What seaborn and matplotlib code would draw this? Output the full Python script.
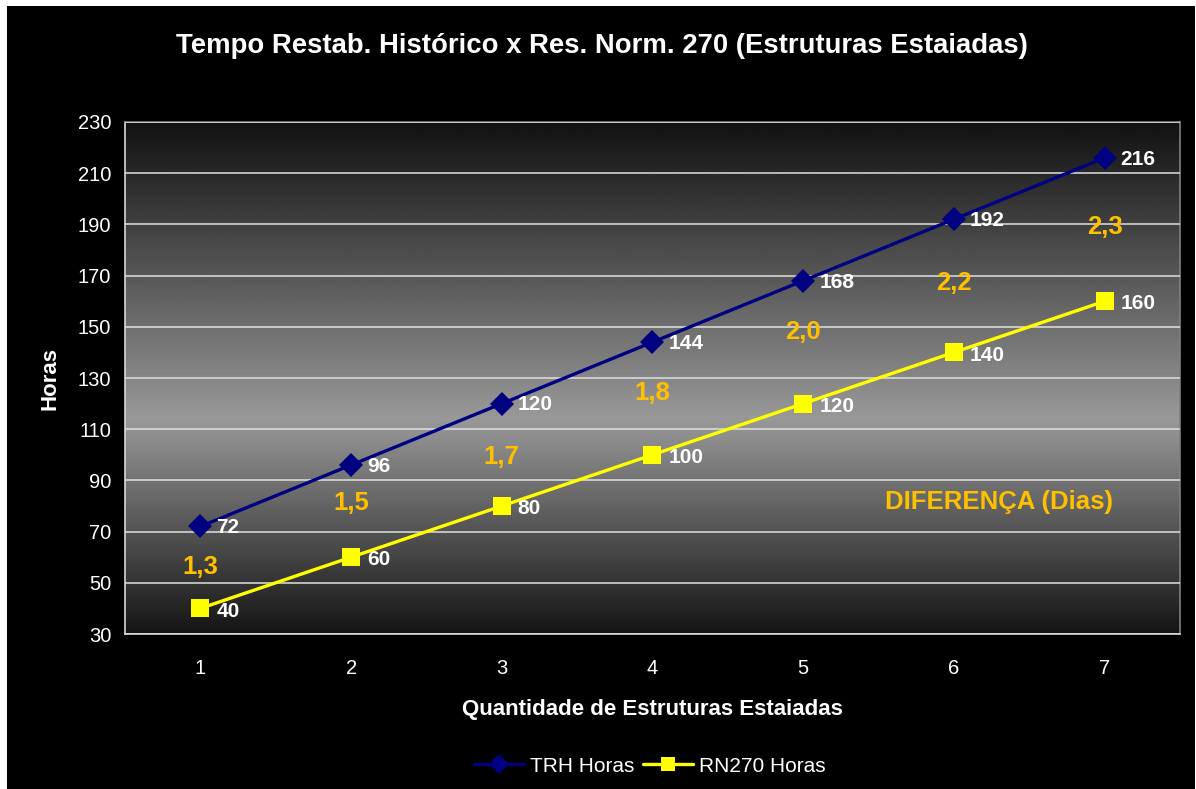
import numpy as np
import pandas as pd
import matplotlib
matplotlib.use("Agg")
import matplotlib.pyplot as plt
import seaborn as sns
from matplotlib.patches import Rectangle

# dados
qtd = [1, 2, 3, 4, 5, 6, 7]
trh_horas = [72, 96, 120, 144, 168, 192, 216]
rn270_horas = [40, 60, 80, 100, 120, 140, 160]
diferenca = ["1,3", "1,5", "1,7", "1,8", "2,0", "2,2", "2,3"]
diferenca_y = [56, 81, 99, 124, 148, 167, 189]
y_ticks = list(range(30, 231, 20))

sns.set_theme(style="dark")
plt.rcParams['font.family'] = ['Liberation Sans', 'DejaVu Sans']

df = pd.DataFrame({
    'qtd': qtd * 2,
    'horas': trh_horas + rn270_horas,
    'serie': ['TRH Horas'] * 7 + ['RN270 Horas'] * 7,
})

fig = plt.figure(figsize=(11.96, 7.89), dpi=100)
fig.patch.set_facecolor('white')
fig.patches.append(Rectangle((7 / 1196, 0), 1 - 8 / 1196, 1 - 6 / 789,
                             transform=fig.transFigure, facecolor='black',
                             edgecolor='none', zorder=-10))
ax = fig.add_axes([125 / 1196, (789 - 634) / 789, (1180 - 125) / 1196, (634 - 122) / 789])
ax.set_facecolor('black')

# fundo em gradiente (escuro - cinza - escuro)
prof = np.interp(np.linspace(0, 1, 300), [0, 0.58, 1], [0.07, 0.60, 0.08])
ax.imshow(prof[:, None], cmap='gray', vmin=0, vmax=1, aspect='auto',
          extent=[0.5, 7.5, 30, 230], origin='upper', zorder=0)

sns.lineplot(data=df, x='qtd', y='horas', hue='serie', style='serie',
             palette={'TRH Horas': '#000080', 'RN270 Horas': '#FFFF00'},
             markers={'TRH Horas': 'D', 'RN270 Horas': 's'}, dashes=False,
             linewidth=2.4, markersize=12, markeredgewidth=0, ax=ax, zorder=3)
# quadrados um pouco maiores que os losangos
for ln in ax.lines:
    if ln.get_marker() == 's':
        ln.set_markersize(13)

for x, y in zip(qtd, trh_horas):
    ax.annotate(str(y), (x, y), xytext=(11.5, -1), textcoords='offset points',
                color='white', fontsize=15, fontweight='bold', va='center', zorder=4)
for x, y in zip(qtd, rn270_horas):
    ax.annotate(str(y), (x, y), xytext=(11.5, -2), textcoords='offset points',
                color='white', fontsize=15, fontweight='bold', va='center', zorder=4)
for x, y, t in zip(qtd, diferenca_y, diferenca):
    ax.text(x, y, t, color='#FFC000', fontsize=18.5, fontweight='bold',
            ha='center', va='center', zorder=4)
ax.text(6.3, 81.5, 'DIFERENÇA (Dias)', color='#FFC000', fontsize=18.5,
        fontweight='bold', ha='center', va='center', zorder=4)

ax.set_xlim(0.5, 7.5)
ax.set_ylim(30, 230)
ax.set_yticks(y_ticks)
ax.set_xticks(np.arange(0.5, 7.6, 1))
ax.set_xticklabels([])
ax.set_xticks(qtd, minor=True)
ax.set_xticklabels([str(q) for q in qtd], minor=True)
ax.tick_params(axis='x', which='major', length=6, color='white', width=1, direction='out')
ax.tick_params(axis='x', which='minor', length=0, pad=18, labelsize=14.5, labelcolor='white')
ax.tick_params(axis='y', length=6, color='white', width=1, labelsize=14.5,
               labelcolor='white', direction='out', pad=4)
ax.grid(axis='y', color='#e0e0e0', linewidth=1.1, zorder=1)
ax.grid(axis='x', visible=False)
ax.set_axisbelow(False)
for s in ['left', 'bottom']:
    ax.spines[s].set_color('#d8d8d8')
    ax.spines[s].set_linewidth(1.2)
for s in ['top', 'right']:
    ax.spines[s].set_color('#808080')
    ax.spines[s].set_linewidth(1.2)

ax.set_xlabel('Quantidade de Estruturas Estaiadas', color='white', fontsize=16,
              fontweight='bold', labelpad=15)
ax.set_ylabel('Horas', color='white', fontsize=16, fontweight='bold', labelpad=12)

fig.text(602 / 1196, 1 - 46 / 789, 'Tempo Restab. Histórico x Res. Norm. 270 (Estruturas Estaiadas)',
         color='white', fontsize=19.8, fontweight='bold', ha='center', va='center')

leg = ax.legend(loc='center', bbox_to_anchor=(650 / 1196, 1 - 766 / 789),
                bbox_transform=fig.transFigure, ncol=2, frameon=False,
                fontsize=15, labelcolor='white', handlelength=2.4,
                columnspacing=0.4, handletextpad=0.3)
for h in leg.legend_handles:
    h.set_markersize(10)

fig.savefig('out.png', dpi=100, facecolor=fig.get_facecolor())
